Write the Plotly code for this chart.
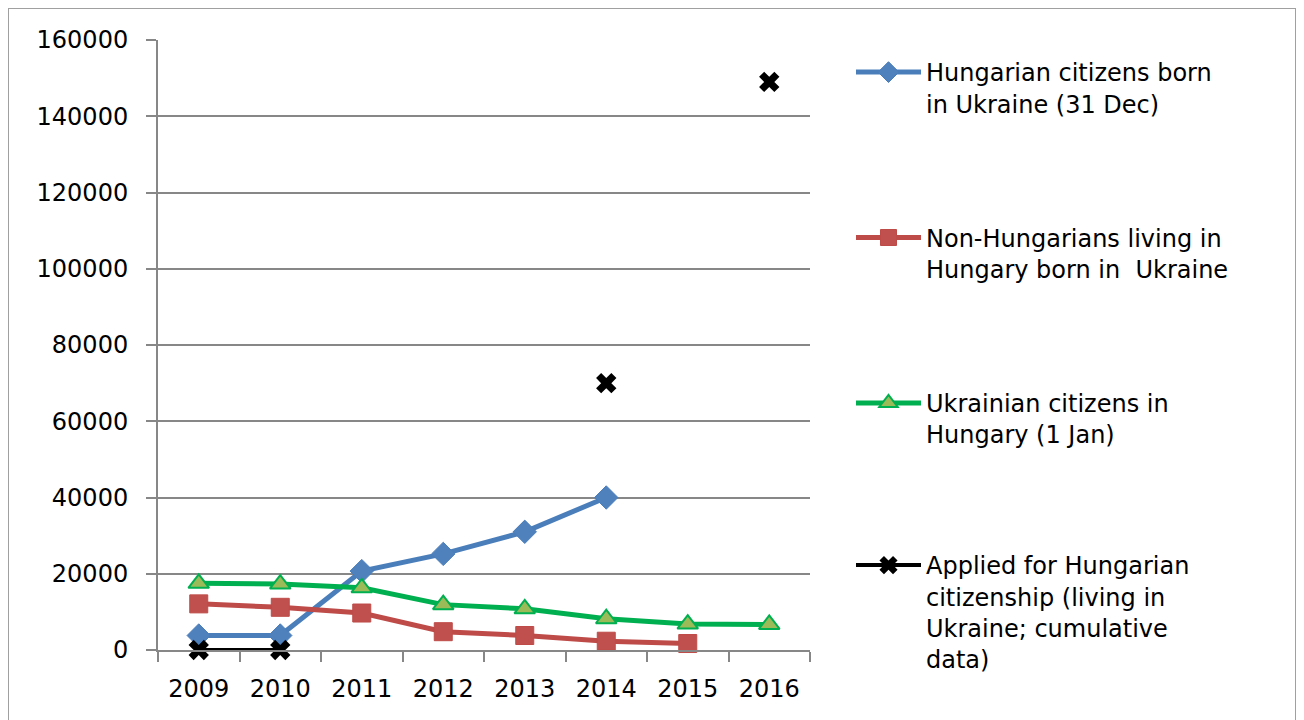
import plotly.graph_objects as go

years = ["2009", "2010", "2011", "2012", "2013", "2014", "2015", "2016"]
hu_citizens_born_ua = [3800, 3800, 20700, 25200, 31000, 40000, None, None]
non_hu_born_ua = [12100, 11200, 9700, 4800, 3800, 2300, 1700, None]
ua_citizens_in_hu = [17500, 17300, 16300, 11900, 10800, 8200, 6800, 6700]
applied_hu_citizenship = [0, 0, None, None, None, 70000, None, 149000]

names = [
    "Hungarian citizens born<br>in Ukraine (31 Dec)",
    "Non-Hungarians living in<br>Hungary born in  Ukraine",
    "Ukrainian citizens in<br>Hungary (1 Jan)",
    "Applied for Hungarian<br>citizenship (living in<br>Ukraine; cumulative<br>data)",
]

FONT = "DejaVu Sans"
W, H = 1288, 712
L, T, R, B = 150, 32, 486, 70
PW, PH = W - L - R, H - T - B


def px_x(fx):
    return (fx - L) / PW


def px_y(fy):
    return (H - B - fy) / PH


fig = go.Figure()
fig.add_trace(go.Scatter(
    x=years, y=hu_citizens_born_ua, name=names[0], legendgroup="a", legend="legend",
    mode="lines+markers", cliponaxis=False,
    line=dict(color="#4A7EBB", width=5),
    marker=dict(symbol="diamond", size=18, color="#4F81BD", line=dict(color="#4A7EBB", width=1)),
))
fig.add_trace(go.Scatter(
    x=years, y=non_hu_born_ua, name=names[1], legendgroup="b", legend="legend",
    mode="lines+markers", cliponaxis=False,
    line=dict(color="#BE4B48", width=5),
    marker=dict(symbol="square", size=18, color="#C0504D", line=dict(color="#BE4B48", width=1)),
))
fig.add_trace(go.Scatter(
    x=years, y=ua_citizens_in_hu, name=names[2], legendgroup="c", legend="legend",
    mode="lines+markers", cliponaxis=False,
    line=dict(color="#00B050", width=5),
    marker=dict(symbol="triangle-up", size=18, color="#9BBB59", line=dict(color="#00B050", width=2)),
))
fig.add_trace(go.Scatter(
    x=years, y=applied_hu_citizenship, name=names[3], legendgroup="d", legend="legend2",
    mode="lines+markers", connectgaps=False, cliponaxis=False,
    line=dict(color="#000000", width=4),
    marker=dict(symbol="x", size=18, color="#000000"),
))

legend_common = dict(
    xanchor="left", yanchor="top", valign="top",
    font=dict(family=FONT, size=24, color="#000000"),
    bgcolor="rgba(0,0,0,0)", itemwidth=65,
)

fig.update_layout(
    width=W, height=H,
    paper_bgcolor="white", plot_bgcolor="white",
    margin=dict(l=L, r=R, t=T, b=B),
    font=dict(family=FONT, size=24, color="#000000"),
    showlegend=True,
    legend=dict(x=px_x(843), y=px_y(42), traceorder="grouped", tracegroupgap=100, **legend_common),
    legend2=dict(x=px_x(843), y=px_y(535), **legend_common),
    xaxis=dict(
        type="category", range=[-0.5, 7.5],
        showline=True, linecolor="#878787", linewidth=2,
        ticks="outside", ticklen=10, tickcolor="#878787", tickwidth=2,
        tickson="boundaries", showgrid=False, zeroline=False,
        ticklabelstandoff=16,
        tickfont=dict(family=FONT, size=24, color="#000000"),
    ),
    yaxis=dict(
        range=[0, 160000], dtick=20000, tickformat="d",
        showline=True, linecolor="#878787", linewidth=2,
        ticks="outside", ticklen=10, tickcolor="#878787", tickwidth=2,
        showgrid=True, gridcolor="#878787", gridwidth=2, zeroline=False,
        ticklabelstandoff=13,
        tickfont=dict(family=FONT, size=24, color="#000000"),
    ),
    shapes=[dict(
        type="rect", xref="paper", yref="paper",
        x0=px_x(0), x1=px_x(1288),
        y0=px_y(760), y1=px_y(0),
        line=dict(color="#A0A0A0", width=2), fillcolor="rgba(0,0,0,0)", layer="below",
    )],
)

fig.write_html("out.html")
